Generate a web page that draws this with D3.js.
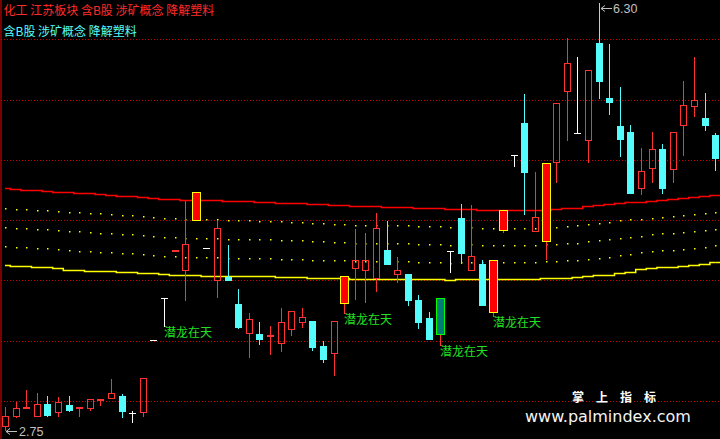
<!DOCTYPE html>
<html><head><meta charset="utf-8">
<script src="https://cdn.jsdelivr.net/npm/d3@7/dist/d3.min.js"></script>
<style>html,body{margin:0;padding:0;background:#000;overflow:hidden}svg{display:block}</style>
</head><body><svg id="c" width="720" height="439"></svg>
<script>
// ---------- data ----------
const openP  = [2.784,2.867,2.934,2.867,2.975,2.900,2.967,2.934,2.934,3.000,3.017,3.041,2.900,2.900,3.506,3.854,4.236,4.078,4.493,4.269,
                3.995,4.028,3.805,3.556,3.556,3.531,3.473,3.589,3.647,3.664,3.456,3.390,3.805,4.095,4.078,4.012,4.252,4.045,4.053,3.838,
                3.688,3.854,4.244,4.518,4.078,4.136,3.730,4.410,5.040,5.306,4.402,4.319,4.974,5.563,5.223,5.156,5.969,5.513,5.281,5.231,
                4.758,4.924,5.090,4.916,5.281,5.438,5.347,5.206];
const highP  = [2.950,2.992,3.091,3.066,3.041,3.033,3.041,2.950,3.017,3.017,3.182,3.058,2.917,3.191,3.506,3.854,4.252,4.659,4.733,4.269,
                4.493,4.294,3.929,3.730,3.655,3.622,3.771,3.746,3.771,3.664,3.498,3.664,4.037,4.427,4.393,4.559,4.493,4.194,4.053,3.879,
                3.738,3.854,4.244,4.634,4.626,4.169,4.169,4.584,5.040,5.546,4.899,4.974,5.472,6.011,5.853,5.745,6.300,5.961,5.604,5.289,
                5.098,5.231,5.132,5.231,5.654,5.853,5.555,5.223];
const lowP   = [2.750,2.859,2.934,2.867,2.867,2.867,2.909,2.867,2.917,2.959,3.017,2.859,2.818,2.867,3.506,3.614,4.236,3.829,4.493,4.269,
                3.854,3.995,3.597,3.357,3.464,3.382,3.406,3.539,3.605,3.415,3.315,3.207,3.722,3.838,3.813,3.904,4.128,3.979,3.788,3.597,
                3.506,3.456,4.062,4.136,4.078,3.788,3.697,4.393,4.941,4.543,4.402,4.169,4.808,5.156,5.223,4.974,5.505,5.372,5.024,4.717,
                4.709,4.808,4.717,4.808,5.032,5.355,5.239,4.908];
const closeP = [2.876,2.942,2.950,2.975,2.876,2.992,2.917,2.950,3.017,3.017,3.066,2.909,2.900,3.191,3.506,3.854,4.252,4.302,4.733,4.269,
                4.435,3.995,3.605,3.680,3.506,3.547,3.655,3.746,3.697,3.440,3.340,3.664,4.037,4.169,4.169,4.435,4.128,4.087,3.829,3.647,
                3.506,3.547,4.244,4.219,4.203,3.788,4.169,4.584,5.040,4.891,4.526,4.974,5.472,5.803,5.223,5.745,5.646,5.472,5.165,4.717,
                4.908,5.090,4.758,5.231,5.455,5.497,5.281,5.007];
// upper (red) and lower (yellow) band of the overlay indicator
const upperBand = [4.764,4.756,4.748,4.748,4.739,4.731,4.731,4.723,4.723,4.714,4.706,4.698,4.698,4.690,4.681,4.673,4.673,4.665,4.665,4.665,
                   4.665,4.656,4.656,4.656,4.648,4.648,4.645,4.640,4.640,4.634,4.631,4.623,4.623,4.615,4.615,4.615,4.607,4.607,4.607,4.598,
                   4.598,4.598,4.590,4.590,4.590,4.582,4.582,4.582,4.582,4.582,4.582,4.587,4.590,4.598,4.603,4.615,4.626,4.634,4.645,4.651,
                   4.653,4.661,4.670,4.678,4.686,4.694,4.700,4.709];
const lowerBand = [4.126,4.117,4.117,4.109,4.109,4.101,4.089,4.089,4.081,4.081,4.076,4.067,4.067,4.059,4.059,4.051,4.043,4.043,4.043,4.034,
                   4.034,4.034,4.034,4.034,4.034,4.034,4.026,4.026,4.026,4.018,4.018,4.018,4.018,4.009,4.009,4.009,4.009,4.009,4.009,4.009,
                   4.009,4.009,4.001,4.009,4.009,4.009,4.009,4.009,4.009,4.009,4.009,4.018,4.018,4.024,4.026,4.033,4.041,4.049,4.062,4.074,
                   4.092,4.101,4.109,4.109,4.117,4.126,4.134,4.150];
const bandFractions = [0.25, 0.5, 0.75];
const gridPrices = [3.0, 3.5, 4.0, 4.5, 5.0, 5.5, 6.0];
const signalBars = [18, 32, 46, 47, 51];   // yellow-framed bars
const greenBars  = [41];                   // green-framed bar
const labelBars  = [15, 32, 41, 46];       // "潜龙在天" markers
const labelText  = "潜龙在天";
const headerLine1 = "化工 江苏板块 含B股 涉矿概念 降解塑料";
const headerLine2 = "含B股 涉矿概念 降解塑料";
const watermark1 = "掌上指标";
const watermark2 = "www.palmindex.com";

// ---------- drawing ----------
const UP = "#ff3232", DOWN = "#54fcfc", GREY = "#c0c0c0";
const n = openP.length;
const candles = d3.range(n).map(i => ({i, o: openP[i], h: highP[i], l: lowP[i], c: closeP[i]}));
const svg = d3.select("#c");
svg.append("rect").attr("width", 720).attr("height", 439).attr("fill", "#000");

const x = d3.scalePoint().domain(d3.range(n)).range([5, 715.2]);
const y = d3.scaleLinear().domain([3, 6]).range([401, 39.3]);
const yr = y.copy().interpolate(d3.interpolateRound);
const X = i => Math.round(x(i));
const Y = v => Math.round(y(v));

// grid (axis ticks as dotted lines)
const gAxis = svg.append("g").attr("transform", "translate(1,0)")
  .call(d3.axisLeft(yr).tickValues(gridPrices).tickSize(-719).tickFormat(""));
gAxis.select(".domain").remove();
gAxis.selectAll(".tick line").attr("stroke", "#c80000").attr("stroke-dasharray", "1,2");
svg.append("line").attr("x1", 1).attr("x2", 1).attr("y1", 0).attr("y2", 439)
  .attr("stroke", "#c80000").attr("stroke-width", 1.2);

// bands (step lines, last step runs to the right edge)
const bandLine = d3.line().x((d, i) => x(i)).y(d => Math.round(y(d)) + 0.5).curve(d3.curveStep);
[[upperBand, "#ff0000"], [lowerBand, "#ffff00"]].forEach(([band, col]) => {
  svg.append("path").attr("d", bandLine(band)).attr("fill", "none").attr("stroke", col).attr("stroke-width", 1.5);
  const ly = Math.round(y(band[n - 1])) + 0.5;
  svg.append("line").attr("x1", x(n - 1)).attr("x2", 720).attr("y1", ly).attr("y2", ly).attr("stroke", col).attr("stroke-width", 1.5);
});
const dots = [];
d3.range(n).forEach(i => bandFractions.forEach(f => dots.push({i, v: upperBand[i] * (1 - f) + lowerBand[i] * f})));
svg.append("g").selectAll("rect").data(dots).join("rect")
  .attr("x", d => X(d.i)).attr("y", d => Y(d.v)).attr("width", 1.5).attr("height", 1.5).attr("fill", "#ffff00");

// candles
const gC = svg.append("g");
gC.selectAll("g").data(candles).join("g").each(function(d) {
  const g = d3.select(this);
  const cx = X(d.i), wx = cx + 0.5;
  const top = Math.round(Math.min(y(d.o), y(d.c))), bot = Math.round(Math.max(y(d.o), y(d.c)));
  const hi = Y(d.h), lo = Y(d.l);
  const vline = (y1, y2, col) => { if (y2 > y1) g.append("line").attr("x1", wx).attr("x2", wx).attr("y1", y1).attr("y2", y2).attr("stroke", col); };
  if (signalBars.includes(d.i) || greenBars.includes(d.i)) {
    const green = greenBars.includes(d.i);
    vline(hi, top, UP); vline(bot, lo, UP);
    g.append("rect").attr("x", cx - 3.5).attr("y", top + 0.5).attr("width", 8).attr("height", Math.max(bot - top - 1, 0))
      .attr("fill", green ? "#007c74" : "#ff0000").attr("stroke", green ? "#00ff00" : "#ffff00");
  } else if (d.c > d.o) {
    vline(hi, top, UP); vline(bot, lo, UP);
    g.append("rect").attr("x", cx - 2.5).attr("y", top + 0.5).attr("width", 6).attr("height", Math.max(bot - top - 1, 0))
      .attr("fill", "none").attr("stroke", UP);
  } else if (d.c < d.o) {
    vline(hi, lo, DOWN);
    g.append("rect").attr("x", cx - 3).attr("y", top).attr("width", 7).attr("height", Math.max(bot - top, 1)).attr("fill", DOWN);
  } else {
    vline(hi, lo, "#ffffff");
    g.append("line").attr("x1", cx - 3).attr("x2", cx + 4).attr("y1", top + 0.5).attr("y2", top + 0.5).attr("stroke", "#ffffff");
  }
});

// signal labels
svg.append("g").selectAll("text").data(labelBars).join("text")
  .attr("x", i => X(i)).attr("y", i => Y(lowP[i]) + 9.5)
  .attr("font-family", "'Noto Sans CJK SC'").attr("font-size", 12).attr("fill", "#22e022").text(labelText);

// max / min markers
const iMax = d3.maxIndex(highP), iMin = d3.minIndex(lowP);
const mx = X(iMax), my = Y(highP[iMax]) + 5;
svg.append("path").attr("d", `M${mx + 13},${my + 0.5}L${mx + 2},${my + 0.5}M${mx + 6},${my - 2.5}L${mx + 2},${my + 0.5}L${mx + 6},${my + 3.5}`)
  .attr("fill", "none").attr("stroke", GREY);
svg.append("text").attr("x", mx + 14).attr("y", my + 5).attr("font-family", "'Liberation Sans'").attr("font-size", 12.5)
  .attr("fill", GREY).text(d3.format(".2f")(highP[iMax]));
const nx = X(iMin), ny = Y(lowP[iMin]);
svg.append("path").attr("d", `M${nx + 12},${ny + 0.5}L${nx + 1},${ny + 0.5}M${nx + 5},${ny - 2.5}L${nx + 1},${ny + 0.5}L${nx + 5},${ny + 3.5}`)
  .attr("fill", "none").attr("stroke", GREY);
svg.append("text").attr("x", nx + 14).attr("y", ny + 5).attr("font-family", "'Liberation Sans'").attr("font-size", 12.5)
  .attr("fill", GREY).text(d3.format(".2f")(lowP[iMin]));

// header
svg.append("text").attr("x", 3.5).attr("y", 15).attr("font-family", "'Noto Sans CJK SC'").attr("font-size", 12)
  .attr("fill", "#ff2a2a").text(headerLine1);
svg.append("text").attr("x", 3.5).attr("y", 36).attr("font-family", "'Noto Sans CJK SC'").attr("font-size", 12)
  .attr("fill", DOWN).text(headerLine2);

// watermark
svg.append("text").attr("x", 572).attr("y", 402).attr("font-family", "'Noto Sans CJK SC'").attr("font-size", 12)
  .attr("font-weight", "bold").attr("letter-spacing", "12px").attr("fill", "#ffffff").text(watermark1);
svg.append("text").attr("x", 525).attr("y", 421.5).attr("font-family", "'DejaVu Sans'").attr("font-size", 16)
  .attr("fill", "#f4f4f4").text(watermark2);
</script></body></html>
